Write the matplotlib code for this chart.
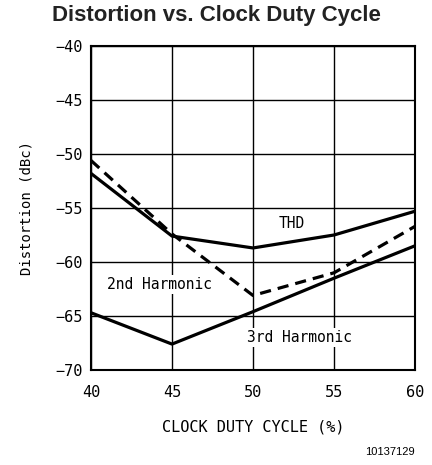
import matplotlib
matplotlib.use('Agg')
import matplotlib.pyplot as plt

# Duty cycle (%) and distortion (dBc)
duty_cycle = [40, 45, 50, 55, 60]
thd = [-51.8, -57.6, -58.7, -57.5, -55.3]
second_harmonic = [-50.6, -57.4, -63.1, -61.0, -56.7]
third_harmonic = [-64.7, -67.6, -64.6, -61.5, -58.5]

x_ticks = [40, 45, 50, 55, 60]
y_ticks = [-40, -45, -50, -55, -60, -65, -70]

plt.rcParams['font.family'] = ['DejaVu Sans Mono']

fig = plt.figure(figsize=(4.32, 4.65), dpi=100)
ax = fig.add_axes([91 / 432, 1 - 370 / 465, 324 / 432, 324 / 465])

ax.set_xlim(40, 60)
ax.set_ylim(-70, -40)
ax.set_xticks(x_ticks)
ax.set_yticks(y_ticks)
ax.set_yticklabels([str(v).replace('-', '\u2212') for v in y_ticks])
ax.tick_params(length=0, labelsize=11)
ax.tick_params(axis='x', pad=11)
ax.tick_params(axis='y', pad=6)
ax.grid(True, color='black', linewidth=1.0)
ax.set_axisbelow(True)
for sp in ax.spines.values():
    sp.set_linewidth(1.5)

ax.plot(duty_cycle, thd, color='black', linewidth=2.3, solid_joinstyle='round')
ax.plot(duty_cycle, second_harmonic, color='black', linewidth=2.3,
        dashes=(3.5, 2.2))
ax.plot(duty_cycle, third_harmonic, color='black', linewidth=2.3, solid_joinstyle='round')

box = dict(facecolor='white', edgecolor='none', pad=1.5)
ax.text(52.4, -56.4, 'THD', fontsize=10.5, ha='center', va='center', bbox=box)
ax.text(44.2, -62.1, '2nd Harmonic', fontsize=10.5, ha='center', va='center', bbox=box)
ax.text(52.9, -67.0, '3rd Harmonic', fontsize=10.5, ha='center', va='center', bbox=box)

ax.set_xlabel('CLOCK DUTY CYCLE (%)', fontsize=11, labelpad=14)
ax.set_ylabel('Distortion (dBc)', fontsize=10, labelpad=16)

fig.text(52 / 432, 1 - 16 / 465, 'Distortion vs. Clock Duty Cycle',
         fontsize=16, fontweight='bold', family='Liberation Sans',
         ha='left', va='center', color='#222222')
fig.text(415 / 432, 1 - 452 / 465, '10137129', fontsize=8,
         family='Liberation Sans', ha='right', va='center')

fig.savefig('out.png', dpi=100)
